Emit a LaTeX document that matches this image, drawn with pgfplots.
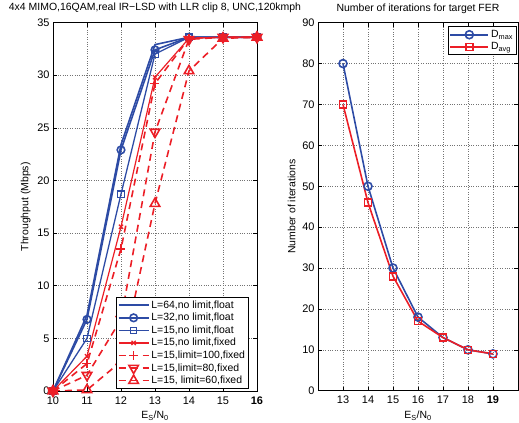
\documentclass[border=0pt]{standalone}
\usepackage{pgfplots}
\pgfplotsset{compat=1.18}
\usepackage{fontspec}
\setmainfont{Liberation Sans}
\definecolor{mblue}{RGB}{45,75,165}
\definecolor{mred}{RGB}{236,30,38}

% throughput (Mbps) vs Es/N0
\pgfplotstableread{
x    Lsf   Ltf   Lff   Lfx   Lh    Le    Ls
10   0     0     0     0     0     0     0
11   7.2   6.8   5.0   3.3   2.6   1.5   0.1
12   23.4  22.9  18.7  15.6  13.5  6.8   2.8
13   32.9  32.4  32.0  29.8  29.2  24.6  17.8
14   33.6  33.6  33.6  33.5  33.5  33.4  30.4
15   33.6  33.6  33.6  33.6  33.6  33.6  33.5
16   33.6  33.6  33.6  33.6  33.6  33.6  33.6
}\thr
% iterations
\pgfplotstableread{
x   dmax  davg
13  80    70
14  50    46
15  30    28
16  18    17
17  13    13
18  10    10
19  9     9
}\iter

\pgfplotsset{
  mybox/.style={
    scale only axis,
    axis line style={line width=0.7pt},
    tick align=inside,
    tick style={black, line width=0.5pt},
    major tick length=4bp,
    grid=major,
    grid style={dotted, black!55, line width=0.5pt},
    ticklabel style={font=\fontsize{11}{13}\selectfont},
    xticklabel style={yshift=-2bp},
    label style={font=\fontsize{10.5}{12}\selectfont},
    title style={font=\fontsize{10.5}{12}\selectfont},
    legend style={font=\fontsize{10.5}{12.5}\selectfont, draw=black, line width=1pt,
      inner sep=1.5bp, row sep=-0.5bp},
    legend cell align=left,
    /pgf/number format/assume math mode=true,
  },
  lw/.style={line width=#1, legend image post style={line width=#1}},
}

\begin{document}
\begin{tikzpicture}
\useasboundingbox (0,0) rectangle (519bp,423bp);

\begin{axis}[mybox,
  at={(53bp,32bp)}, anchor=south west,
  width=204bp, height=368.5bp,
  xmin=10, xmax=16, ymin=0, ymax=35,
  xtick={10,...,16},
  xticklabels={10,11,12,13,14,15,\textbf{16}},
  ytick={0,5,...,35},
  title={4x4 MIMO,16QAM,real IR\textminus LSD with LLR clip 8, UNC,120kmph},
  xlabel={E\textsubscript{S}/N\textsubscript{0}},
  ylabel={Throughput (Mbps)},
  legend style={at={(0.961,0.005)}, anchor=south east},
  legend image code/.code={\draw[mark repeat=2, mark phase=2]
    plot coordinates {(0bp,0bp) (15bp,0bp) (30bp,0bp)};},
]
\addplot[mblue, lw=1.6pt] table[x=x, y=Lsf] {\thr};
\addlegendentry{L=64,no limit,float}
\addplot[mblue, lw=1.6pt, mark=o, mark size=3.8bp, mark options={solid}] table[x=x, y=Ltf] {\thr};
\addlegendentry{L=32,no limit,float}
\addplot[mblue, lw=1.3pt, mark=square, mark size=3.2bp, mark options={solid}] table[x=x, y=Lff] {\thr};
\addlegendentry{L=15,no limit,float}
\addplot[mred, lw=1.2pt, mark=x, mark size=3bp, mark options={solid}] table[x=x, y=Lfx] {\thr};
\addlegendentry{L=15,no limit,fixed}
\addplot[mred, lw=1.6pt, dash pattern=on 7bp off 5bp, mark=+, mark size=4.5bp, mark options={solid}] table[x=x, y=Lh] {\thr};
\addlegendentry{L=15,limit=100,fixed}
\addplot[mred, lw=1.6pt, dash pattern=on 7bp off 5bp, mark=triangle, mark size=5.5bp, mark options={solid, rotate=180}] table[x=x, y=Le] {\thr};
\addlegendentry{L=15,limit=80,fixed}
\addplot[mred, lw=1.6pt, dash pattern=on 7bp off 5bp, mark=triangle, mark size=5.5bp, mark options={solid}] table[x=x, y=Ls] {\thr};
\addlegendentry{L=15, limit=60,fixed}
\end{axis}

\begin{axis}[mybox,
  at={(318bp,32.3bp)}, anchor=south west,
  width=200bp, height=368bp,
  xmin=12, xmax=20, ymin=0, ymax=90,
  xtick={13,...,19},
  xticklabels={13,14,15,16,17,18,\textbf{19}},
  ytick={0,10,...,90},
  title={Number of iterations for target FER},
  xlabel={E\textsubscript{S}/N\textsubscript{0}},
  ylabel={Number of iterations},
  legend style={at={(0.995,0.99)}, anchor=north east},
  legend image code/.code={\draw[mark repeat=2, mark phase=2]
    plot coordinates {(0bp,0bp) (19bp,0bp) (38bp,0bp)};},
]
\addplot[mblue, lw=1.6pt, mark=o, mark size=4bp] table[x=x, y=dmax] {\iter};
\addlegendentry{D\textsubscript{max}}
\addplot[mred, lw=1.6pt, mark=square, mark size=3.5bp] table[x=x, y=davg] {\iter};
\addlegendentry{D\textsubscript{avg}}
\end{axis}
\end{tikzpicture}
\end{document}
